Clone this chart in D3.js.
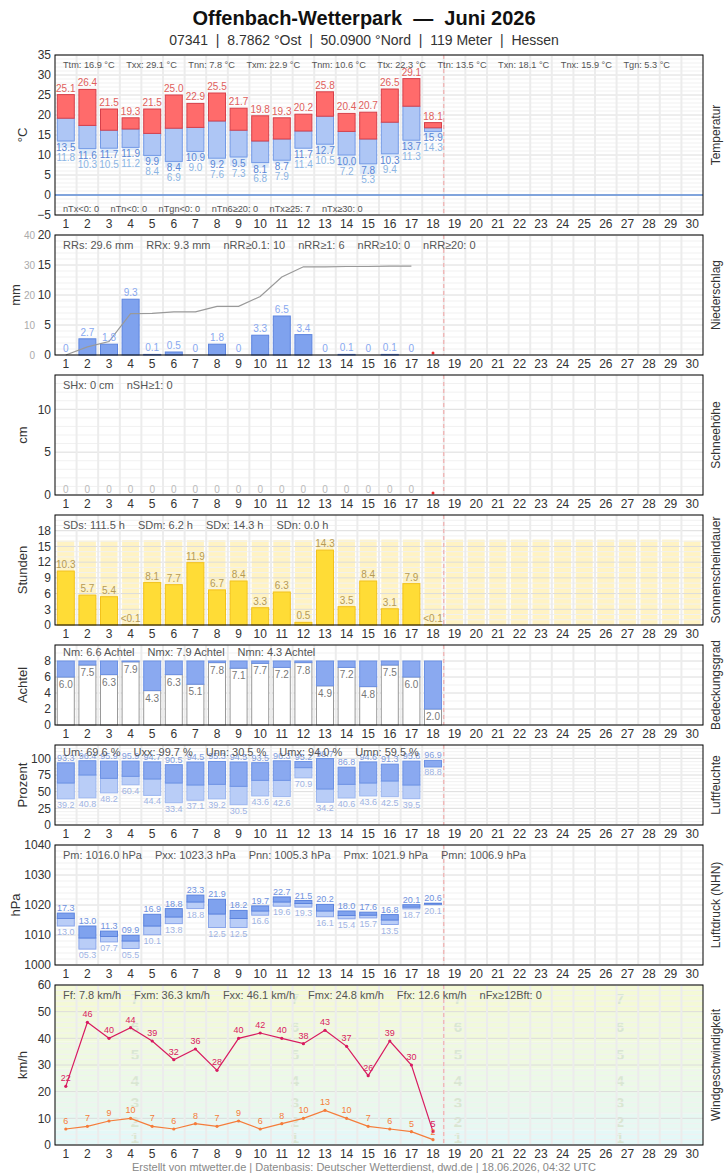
<!DOCTYPE html>
<html>
<head>
<meta charset="utf-8">
<script src="https://cdn.jsdelivr.net/npm/d3@7"></script>
<style>
  body { margin: 0; background: #fff; }
  text { font-family: "Liberation Sans", Arial, sans-serif; }
</style>
</head>
<body>
<svg id="chart" width="728" height="1175"></svg>
<script>
// ---- data (June 2026, days 1..18 measured) ----
const days = d3.range(1, 31);

const tMax    = [25.1, 26.4, 21.5, 19.3, 21.5, 25.0, 22.9, 25.5, 21.7, 19.8, 19.3, 20.2, 25.8, 20.4, 20.7, 26.5, 29.1, 18.1];
const tMean   = [19.2, 17.4, 16.2, 16.5, 15.4, 16.7, 16.9, 18.5, 16.2, 13.5, 14.0, 16.0, 19.7, 15.9, 14.0, 18.2, 22.2, 16.8];
const tMin    = [13.5, 11.6, 11.7, 11.9, 9.9, 8.4, 10.9, 9.2, 9.5, 8.1, 8.7, 11.7, 12.7, 10.0, 7.8, 10.3, 13.7, 15.9];
const tGround = [11.8, 10.3, 10.5, 11.2, 8.4, 6.9, 9.0, 7.6, 7.3, 6.8, 7.9, 11.4, 10.5, 7.2, 5.3, 9.4, 11.3, 14.3];
const tempStats = ["Ttm: 16.9 °C", "Txx: 29.1 °C", "Tnn: 7.8 °C", "Txm: 22.9 °C", "Tnm: 10.6 °C",
                   "Ttx: 22.3 °C", "Ttn: 13.5 °C", "Txn: 18.1 °C", "Tnx: 15.9 °C", "Tgn: 5.3 °C"];
const tempCounts = ["nTx<0: 0", "nTn<0: 0", "nTgn<0: 0", "nTn6≥20: 0", "nTx≥25: 7", "nTx≥30: 0"];

const rain      = [0, 2.7, 1.8, 9.3, 0.1, 0.5, 0, 1.8, 0, 3.3, 6.5, 3.4, 0, 0.1, 0, 0.1, 0];
const rainTotal = [0, 2.7, 4.5, 13.8, 13.9, 14.4, 14.4, 16.2, 16.2, 19.5, 26.0, 29.4, 29.4, 29.5, 29.5, 29.6, 29.6];
const rainStats = ["RRs: 29.6 mm", "RRx: 9.3 mm", "nRR≥0.1: 10", "nRR≥1: 6", "nRR≥10: 0", "nRR≥20: 0"];

const snow = [0, 0, 0, 0, 0, 0, 0, 0, 0, 0, 0, 0, 0, 0, 0, 0, 0];
const snowStats = ["SHx: 0 cm", "nSH≥1: 0"];
const missingDays = [18];

const sun = [10.3, 5.7, 5.4, 0.04, 8.1, 7.7, 11.9, 6.7, 8.4, 3.3, 6.3, 0.5, 14.3, 3.5, 8.4, 3.1, 7.9, 0.04];
const sunPossible = [16.1, 16.1, 16.1, 16.2, 16.2, 16.2, 16.2, 16.2, 16.2, 16.2, 16.2, 16.2, 16.3, 16.3, 16.3,
                     16.3, 16.3, 16.3, 16.3, 16.3, 16.3, 16.3, 16.3, 16.3, 16.3, 16.3, 16.3, 16.3, 16.3, 16.1];
const sunStats = ["SDs: 111.5 h", "SDm: 6.2 h", "SDx: 14.3 h", "SDn: 0.0 h"];

const cloud = [6.0, 7.5, 6.3, 7.9, 4.3, 6.3, 5.1, 7.8, 7.1, 7.7, 7.2, 7.8, 4.9, 7.2, 4.8, 7.5, 6.0, 2.0];
const cloudStats = ["Nm: 6.6 Achtel", "Nmx: 7.9 Achtel", "Nmn: 4.3 Achtel"];

const humMax  = [93.3, 96.4, 95.9, 95.9, 94.7, 90.5, 94.5, 95.3, 94.5, 93.5, 96.3, 95.2, 99.7, 86.8, 94.6, 91.3, 95.8, 96.9];
const humMean = [63, 75, 70, 73, 69, 63, 60, 61, 58, 67, 67, 86, 54, 61, 63, 66, 60, 87];
const humMin  = [39.2, 40.8, 48.2, 60.4, 44.4, 33.4, 37.1, 39.2, 30.5, 43.6, 42.6, 70.9, 34.2, 40.6, 43.6, 42.5, 39.5, 88.8];
const humStats = ["Um: 69.6 %", "Uxx: 99.7 %", "Unn: 30.5 %", "Umx: 94.0 %", "Umn: 59.5 %"];

const presMax  = [1017.3, 1013.0, 1011.3, 1009.9, 1016.9, 1018.8, 1023.3, 1021.9, 1018.2, 1019.7, 1022.7, 1021.5, 1020.2, 1018.0, 1017.6, 1016.8, 1020.1, 1020.6];
const presMean = [1015.5, 1009.0, 1009.5, 1008.0, 1013.0, 1016.0, 1021.0, 1017.0, 1015.5, 1018.0, 1021.0, 1020.5, 1018.0, 1016.5, 1016.6, 1015.0, 1019.3, 1020.3];
const presMin  = [1013.0, 1005.3, 1007.7, 1005.5, 1010.1, 1013.8, 1018.8, 1012.5, 1012.5, 1016.6, 1019.6, 1019.3, 1016.1, 1015.4, 1015.7, 1013.5, 1018.7, 1020.1];
const presStats = ["Pm: 1016.0 hPa", "Pxx: 1023.3 hPa", "Pnn: 1005.3 hPa", "Pmx: 1021.9 hPa", "Pmn: 1006.9 hPa"];

const gust     = [22, 46, 40, 44, 39, 32, 36, 28, 40, 42, 40, 38, 43, 37, 26, 39, 30, 5];
const windMean = [6, 7, 9, 10, 7, 6, 8, 7, 9, 6, 8, 10, 13, 10, 7, 6, 5, 2];
const windStats = ["Ff: 7.8 km/h", "Fxm: 36.3 km/h", "Fxx: 46.1 km/h", "Fmx: 24.8 km/h", "Ffx: 12.6 km/h", "nFx≥12Bft: 0"];
const bftBounds = [0, 5.5, 11.9, 19.7, 28.7, 38.8, 49.9, 60];
const bftLabels = ["1", "2", "3", "4", "5", "6", "7"];

// ---- layout ----
const svg = d3.select("#chart");
const X0 = 55, X1 = 703;
const x = d3.scaleBand().domain(days).range([X0, X1]);
const bw = 17;
const bx = d => x(d) + (x.bandwidth() - bw) / 2;
const cx = d => x(d) + x.bandwidth() / 2;
const fmt1 = d3.format(".1f");

svg.append("text").attr("x", 364).attr("y", 25).attr("text-anchor", "middle")
  .style("font-family", "'Liberation Sans Narrow', 'Liberation Sans', Arial, sans-serif")
  .style("white-space", "pre").attr("font-size", 20).attr("font-weight", "bold").attr("fill", "#111")
  .text("Offenbach-Wetterpark  —  Juni 2026");
svg.append("text").attr("x", 364).attr("y", 45).attr("text-anchor", "middle")
  .style("font-family", "'Liberation Sans Narrow', 'Liberation Sans', Arial, sans-serif")
  .style("white-space", "pre").attr("font-size", 14).attr("fill", "#333")
  .text("07341  |  8.7862 °Ost  |  50.0900 °Nord  |  119 Meter  |  Hessen");

function panel(cfg) {
  const y = d3.scaleLinear().domain(cfg.domain).range([cfg.bottom, cfg.top]);
  const g = svg.append("g");
  const back = g.append("g");
  const grid = g.append("g");
  const marks = g.append("g");
  const minor = d3.range(cfg.domain[0], cfg.domain[1] + 1e-6, cfg.minor).filter(v => !cfg.ticks.includes(v));
  grid.selectAll(".mn").data(minor).join("line")
    .attr("x1", X0).attr("x2", X1).attr("y1", d => y(d)).attr("y2", d => y(d))
    .attr("stroke", "#f1f1f1");
  grid.selectAll(".mj").data(cfg.ticks).join("line")
    .attr("x1", X0).attr("x2", X1).attr("y1", d => y(d)).attr("y2", d => y(d))
    .attr("stroke", "#dcdcdc");
  grid.selectAll(".vd").data(days.slice(1)).join("line")
    .attr("x1", d => x(d)).attr("x2", d => x(d)).attr("y1", cfg.top).attr("y2", cfg.bottom)
    .attr("stroke", "#ececec").attr("stroke-width", 2);
  grid.append("line").attr("x1", x(19)).attr("x2", x(19)).attr("y1", cfg.top).attr("y2", cfg.bottom)
    .attr("stroke", "#f3a3a3").attr("stroke-dasharray", "4,3");

  const ax = g.append("g").attr("transform", `translate(${X0},0)`)
    .call(d3.axisLeft(y).tickValues(cfg.ticks).tickFormat(d3.format("d")).tickSize(0).tickPadding(4));
  ax.select(".domain").remove();
  ax.selectAll("text").attr("font-size", 12).attr("fill", "#333");

  const axb = g.append("g").attr("transform", `translate(0,${cfg.bottom})`)
    .call(d3.axisBottom(x).tickSize(0).tickPadding(4));
  axb.select(".domain").remove();
  axb.selectAll("text").attr("font-size", 12).attr("fill", "#333");

  const my = (cfg.top + cfg.bottom) / 2;
  g.append("text").attr("transform", `translate(${cfg.titleX || 22},${my}) rotate(-90)`)
    .attr("text-anchor", "middle").attr("dy", "0.35em").attr("font-size", 13).attr("fill", "#333").text(cfg.unit);
  g.append("text").attr("transform", `translate(716,${my}) rotate(-90)`)
    .attr("text-anchor", "middle").attr("dy", "0.35em").attr("font-size", 12).attr("fill", "#333").text(cfg.side);

  return { y, g, back, marks, cfg };
}

function stats(p, items, yy, size, gap) {
  const t = p.g.append("g");
  let xx = 63;
  items.forEach(s => {
    const el = t.append("text").attr("x", xx).attr("y", yy).attr("font-size", size).attr("fill", "#555").text(s);
    xx += el.node().getComputedTextLength() + gap;
  });
}

function border(p) {
  p.g.append("rect").attr("x", X0).attr("y", p.cfg.top).attr("width", X1 - X0)
    .attr("height", p.cfg.bottom - p.cfg.top).attr("fill", "none").attr("stroke", "#000");
}

const d18 = days.slice(0, 18);

// ---- temperature ----
{
  const p = panel({ top: 55, bottom: 215, domain: [-5, 35], ticks: d3.range(-5, 36, 5), minor: 1, unit: "°C", side: "Temperatur" });
  const y = p.y, m = p.marks;
  m.append("line").attr("x1", X0).attr("x2", X1).attr("y1", y(0)).attr("y2", y(0)).attr("stroke", "#5b8bd6").attr("stroke-width", 1.5);
  m.selectAll(".tg").data(d18).join("rect")
    .attr("x", d => bx(d)).attr("width", bw).attr("y", (d, i) => y(tMin[i])).attr("height", (d, i) => y(tGround[i]) - y(tMin[i]))
    .attr("fill", "#dde9f9");
  m.selectAll(".tb").data(d18).join("rect")
    .attr("x", d => bx(d)).attr("width", bw).attr("y", (d, i) => y(tMean[i])).attr("height", (d, i) => y(tMin[i]) - y(tMean[i]))
    .attr("fill", "#aec6f5").attr("stroke", "#739ae6");
  m.selectAll(".tr").data(d18).join("rect")
    .attr("x", d => bx(d)).attr("width", bw).attr("y", (d, i) => y(tMax[i])).attr("height", (d, i) => y(tMean[i]) - y(tMax[i]))
    .attr("fill", "#ff6b6b").attr("stroke", "#d6404a");
  m.selectAll(".lx").data(d18).join("text")
    .attr("x", d => cx(d)).attr("y", (d, i) => y(tMax[i]) - 3).attr("text-anchor", "middle")
    .attr("font-size", 10).attr("fill", "#e0605c").text((d, i) => fmt1(tMax[i]));
  m.selectAll(".ln").data(d18).join("text")
    .attr("x", d => cx(d)).attr("y", (d, i) => y(tMin[i]) + 10).attr("text-anchor", "middle")
    .attr("font-size", 10).attr("fill", "#5a86d6").text((d, i) => fmt1(tMin[i]));
  m.selectAll(".lg").data(d18).join("text")
    .attr("x", d => cx(d)).attr("y", (d, i) => y(tMin[i]) + 19.5).attr("text-anchor", "middle")
    .attr("font-size", 10).attr("fill", "#8bb4e4").text((d, i) => fmt1(tGround[i]));
  stats(p, tempStats, 68, 9.2, 11.5);
  stats(p, tempCounts, 212, 9.2, 11.5);
  border(p);
}

// ---- precipitation ----
{
  const p = panel({ top: 235, bottom: 355, domain: [0, 20], ticks: [0, 5, 10, 15, 20], minor: 1, unit: "mm", side: "Niederschlag", titleX: 15 });
  const y = p.y, m = p.marks;
  const y2 = d3.scaleLinear().domain([0, 40]).range([355, 235]);
  const ax2 = p.g.append("g").attr("transform", "translate(36,0)")
    .call(d3.axisLeft(y2).tickValues([0, 10, 20, 30, 40]).tickSize(0).tickPadding(1));
  ax2.select(".domain").remove();
  ax2.selectAll("text").attr("font-size", 10).attr("fill", "#aaa");
  const dr = days.slice(0, rain.length);
  m.selectAll(".rb").data(dr).join("rect")
    .attr("x", d => bx(d)).attr("width", bw).attr("y", (d, i) => y(rain[i])).attr("height", (d, i) => y(0) - y(rain[i]))
    .attr("fill", "#7fa2ee").attr("stroke", "#5d84de");
  m.append("path").datum(dr)
    .attr("d", d3.line().x(d => cx(d)).y((d, i) => y2(rainTotal[i])))
    .attr("fill", "none").attr("stroke", "#999").attr("stroke-width", 1.2);
  m.selectAll(".rl").data(dr).join("text")
    .attr("x", d => cx(d)).attr("y", (d, i) => y(rain[i]) - 3).attr("text-anchor", "middle")
    .attr("font-size", 10).attr("fill", "#88a8f0").text((d, i) => rain[i] === 0 ? "0" : fmt1(rain[i]));
  m.selectAll(".rm").data(missingDays).join("circle")
    .attr("cx", d => cx(d)).attr("cy", y(0) - 2).attr("r", 1.5).attr("fill", "#f03030");
  stats(p, rainStats, 249, 11, 13);
  border(p);
}

// ---- snow ----
{
  const p = panel({ top: 375, bottom: 495, domain: [0, 14], ticks: [0, 5, 10], minor: 1, unit: "cm", side: "Schneehöhe" });
  const y = p.y, m = p.marks;
  const ds = days.slice(0, snow.length);
  m.selectAll(".sl").data(ds).join("text")
    .attr("x", d => cx(d)).attr("y", (d, i) => y(snow[i]) - 2).attr("text-anchor", "middle")
    .attr("font-size", 10).attr("fill", "#bbb").text((d, i) => snow[i]);
  m.selectAll(".sm").data(missingDays).join("circle")
    .attr("cx", d => cx(d)).attr("cy", y(0) - 2).attr("r", 1.5).attr("fill", "#f03030");
  stats(p, snowStats, 389, 11, 13);
  border(p);
}

// ---- sunshine ----
{
  const p = panel({ top: 515, bottom: 625, domain: [0, 21], ticks: d3.range(0, 19, 3), minor: 1, unit: "Stunden", side: "Sonnenscheindauer" });
  const y = p.y, m = p.marks;
  p.back.selectAll(".sp").data(days).join("rect")
    .attr("x", d => bx(d)).attr("width", bw).attr("y", (d, i) => y(sunPossible[i])).attr("height", (d, i) => y(0) - y(sunPossible[i]))
    .attr("fill", "#fff3c4");
  m.selectAll(".sb").data(d18).join("rect")
    .attr("x", d => bx(d)).attr("width", bw).attr("y", (d, i) => y(sun[i])).attr("height", (d, i) => y(0) - y(sun[i]))
    .attr("fill", "#ffdc36").attr("stroke", "#f2c21c");
  m.selectAll(".sl").data(d18).join("text")
    .attr("x", d => cx(d)).attr("y", (d, i) => y(sun[i]) - 3).attr("text-anchor", "middle")
    .attr("font-size", 10).attr("fill", "#b59a55").text((d, i) => sun[i] < 0.1 ? "<0.1" : fmt1(sun[i]));
  stats(p, sunStats, 529, 11, 13);
  border(p);
}

// ---- cloud cover ----
{
  const p = panel({ top: 645, bottom: 725, domain: [0, 10], ticks: [0, 2, 4, 6, 8], minor: 1, unit: "Achtel", side: "Bedeckungsgrad" });
  const y = p.y, m = p.marks;
  m.selectAll(".cw").data(d18).join("rect")
    .attr("x", d => bx(d)).attr("width", bw).attr("y", (d, i) => y(cloud[i])).attr("height", (d, i) => y(0) - y(cloud[i]))
    .attr("fill", "#fff").attr("stroke", "#9a9a9a");
  m.selectAll(".cb").data(d18).join("rect")
    .attr("x", d => bx(d)).attr("width", bw).attr("y", y(8)).attr("height", (d, i) => y(cloud[i]) - y(8))
    .attr("fill", "#8aa9f0").attr("stroke", "#6d92e4");
  m.selectAll(".cl").data(d18).join("text")
    .attr("x", d => cx(d)).attr("y", (d, i) => y(cloud[i]) + 11).attr("text-anchor", "middle")
    .attr("font-size", 10).attr("fill", "#777").text((d, i) => fmt1(cloud[i]));
  stats(p, cloudStats, 656, 11, 13);
  border(p);
}

// ---- humidity ----
{
  const p = panel({ top: 745, bottom: 825, domain: [0, 120], ticks: [0, 25, 50, 75, 100], minor: 5, unit: "Prozent", side: "Luftfeuchte" });
  const y = p.y, m = p.marks;
  m.selectAll(".hl").data(d18).join("rect")
    .attr("x", d => bx(d)).attr("width", bw).attr("y", (d, i) => y(humMean[i])).attr("height", (d, i) => y(humMin[i]) - y(humMean[i]))
    .attr("fill", "#b9cdf7").attr("stroke", "#9db7ef");
  m.selectAll(".hd").data(d18).join("rect")
    .attr("x", d => bx(d)).attr("width", bw).attr("y", (d, i) => y(humMax[i])).attr("height", (d, i) => y(humMean[i]) - y(humMax[i]))
    .attr("fill", "#8aa9f0").attr("stroke", "#6d92e4");
  m.selectAll(".ht").data(d18).join("text")
    .attr("x", d => cx(d)).attr("y", (d, i) => y(humMax[i]) - 2).attr("text-anchor", "middle")
    .attr("font-size", 9).attr("fill", "#7f9de0").text((d, i) => fmt1(humMax[i]));
  m.selectAll(".hb").data(d18).join("text")
    .attr("x", d => cx(d)).attr("y", (d, i) => y(humMin[i]) + 9).attr("text-anchor", "middle")
    .attr("font-size", 9).attr("fill", "#9fb4e4").text((d, i) => fmt1(humMin[i]));
  stats(p, humStats, 756, 11, 13);
  border(p);
}

// ---- pressure ----
{
  const p = panel({ top: 845, bottom: 965, domain: [1000, 1040], ticks: d3.range(1000, 1041, 10), minor: 2, unit: "hPa", side: "Luftdruck (NHN)", titleX: 15 });
  const y = p.y, m = p.marks;
  const f = v => d3.format("04.1f")(v - 1000);
  m.selectAll(".pl").data(d18).join("rect")
    .attr("x", d => bx(d)).attr("width", bw).attr("y", (d, i) => y(presMean[i])).attr("height", (d, i) => y(presMin[i]) - y(presMean[i]))
    .attr("fill", "#b9cdf7").attr("stroke", "#8aa6ea");
  m.selectAll(".pd").data(d18).join("rect")
    .attr("x", d => bx(d)).attr("width", bw).attr("y", (d, i) => y(presMax[i])).attr("height", (d, i) => y(presMean[i]) - y(presMax[i]))
    .attr("fill", "#7fa2ee").attr("stroke", "#5d84de");
  m.selectAll(".pt").data(d18).join("text")
    .attr("x", d => cx(d)).attr("y", (d, i) => y(presMax[i]) - 2).attr("text-anchor", "middle")
    .attr("font-size", 9).attr("fill", "#6f92e0").text((d, i) => f(presMax[i]));
  m.selectAll(".pb").data(d18).join("text")
    .attr("x", d => cx(d)).attr("y", (d, i) => y(presMin[i]) + 9).attr("text-anchor", "middle")
    .attr("font-size", 9).attr("fill", "#9fb4e4").text((d, i) => f(presMin[i]));
  stats(p, presStats, 859, 11, 13);
  border(p);
}

// ---- wind ----
{
  const p = panel({ top: 985, bottom: 1145, domain: [0, 60], ticks: d3.range(0, 61, 10), minor: 2, unit: "km/h", side: "Windgeschwindigkeit" });
  const y = p.y, m = p.marks;
  const bandColor = d3.scaleLinear().domain([0, 6]).range(["#e4f8f7", "#f4f9d6"]);
  const bands = bftLabels.map((l, i) => ({ l, lo: bftBounds[i], hi: bftBounds[i + 1], i }));
  p.back.selectAll(".bb").data(bands).join("rect")
    .attr("x", X0).attr("width", X1 - X0).attr("y", d => y(d.hi)).attr("height", d => y(d.lo) - y(d.hi))
    .attr("fill", d => bandColor(d.i));
  const labelX = [135, 295, 458, 620];
  labelX.forEach(lx => {
    p.back.selectAll(null).data(bands).join("text")
      .attr("x", lx).attr("y", d => y((d.lo + d.hi) / 2)).attr("dy", "0.35em").attr("text-anchor", "middle")
      .attr("font-size", 15).attr("font-weight", "bold").attr("fill", "#d9e6d2").text(d => d.l);
  });
  const series = [{ v: gust, c: "#d81b60" }, { v: windMean, c: "#f57c3a" }];
  series.forEach(s => {
    m.append("path").datum(d18)
      .attr("d", d3.line().x(d => cx(d)).y((d, i) => y(s.v[i])))
      .attr("fill", "none").attr("stroke", s.c).attr("stroke-width", 1.2);
    m.selectAll(null).data(d18).join("circle")
      .attr("cx", d => cx(d)).attr("cy", (d, i) => y(s.v[i])).attr("r", 1.6).attr("fill", s.c);
    m.selectAll(null).data(d18).join("text")
      .attr("x", d => cx(d)).attr("y", (d, i) => y(s.v[i]) - 5).attr("text-anchor", "middle")
      .attr("font-size", 9).attr("fill", s.c).text((d, i) => s.v[i]);
  });
  stats(p, windStats, 999, 11, 13);
  border(p);
}

svg.append("text").attr("x", 364).attr("y", 1171).attr("text-anchor", "middle")
  .attr("font-size", 11).attr("fill", "#888")
  .text("Erstellt von mtwetter.de | Datenbasis: Deutscher Wetterdienst, dwd.de | 18.06.2026, 04:32 UTC");
</script>
</body>
</html>
